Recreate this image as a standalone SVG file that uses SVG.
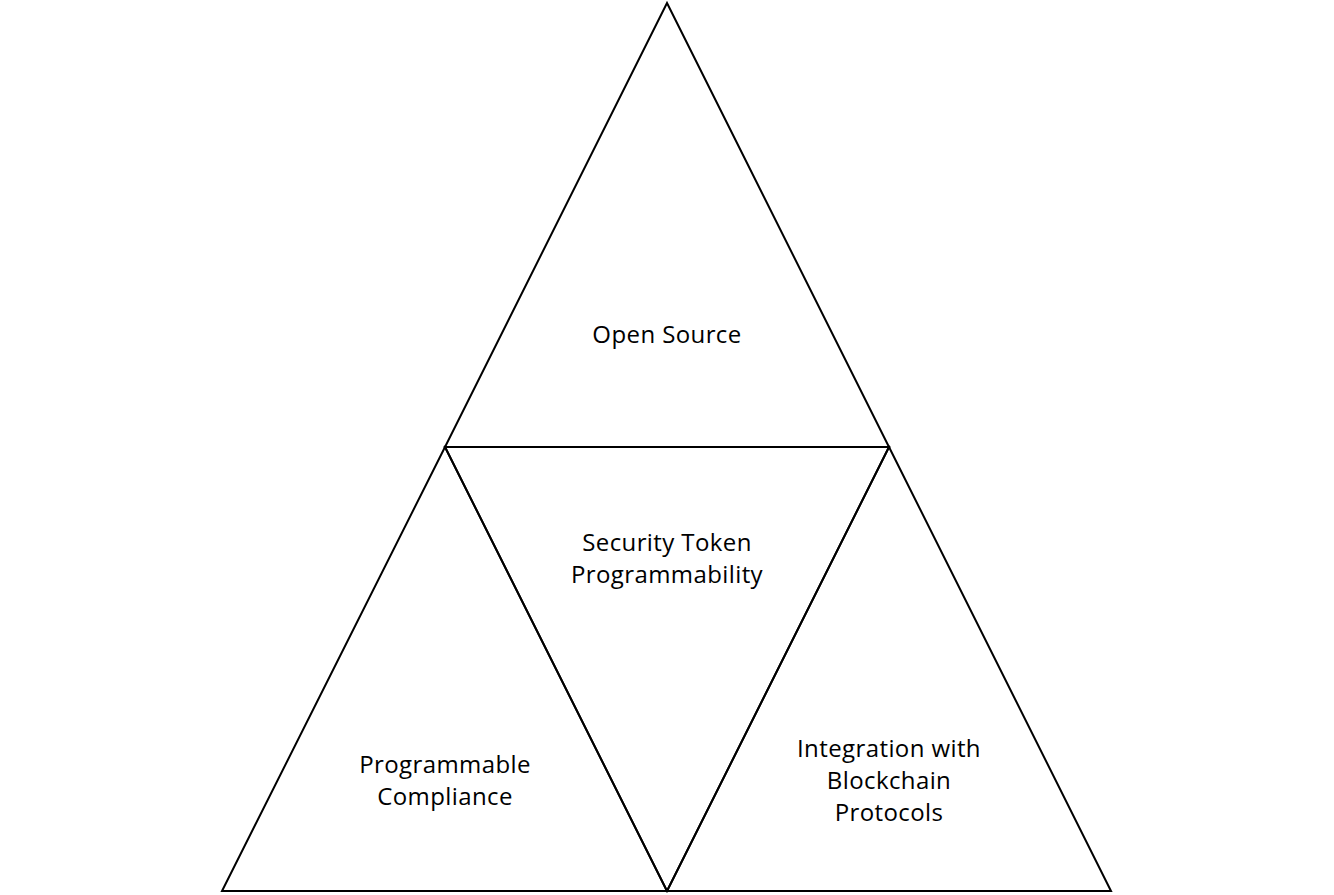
<svg xmlns="http://www.w3.org/2000/svg" width="1334" height="895" viewBox="0 0 1334 895">
<style>
.tri{fill:none;stroke:#000;stroke-width:2;stroke-linejoin:miter}
.lbl{font-family:"Open Sans","Noto Sans","Liberation Sans",sans-serif;font-size:24px;letter-spacing:0.4px;fill:#000;text-anchor:middle}
</style>
<rect width="1334" height="895" fill="#fff"/>
<g id="connectors"></g>
<g id="node-open-source">
<polygon class="tri" points="667,3 889,447 445,447"/>
<text class="lbl" x="667" y="343">Open Source</text>
</g>
<g id="node-security-token">
<polygon class="tri" points="445,447 889,447 667,891"/>
<text class="lbl" x="667" y="551">Security Token</text>
<text class="lbl" x="667" y="583">Programmability</text>
</g>
<g id="node-compliance">
<polygon class="tri" points="445,447 667,891 222,891"/>
<text class="lbl" x="445" y="773">Programmable</text>
<text class="lbl" x="445" y="805">Compliance</text>
</g>
<g id="node-integration">
<polygon class="tri" points="889,447 1111,891 667,891"/>
<text class="lbl" x="889" y="757">Integration with</text>
<text class="lbl" x="889" y="789">Blockchain</text>
<text class="lbl" x="889" y="821">Protocols</text>
</g>
</svg>
